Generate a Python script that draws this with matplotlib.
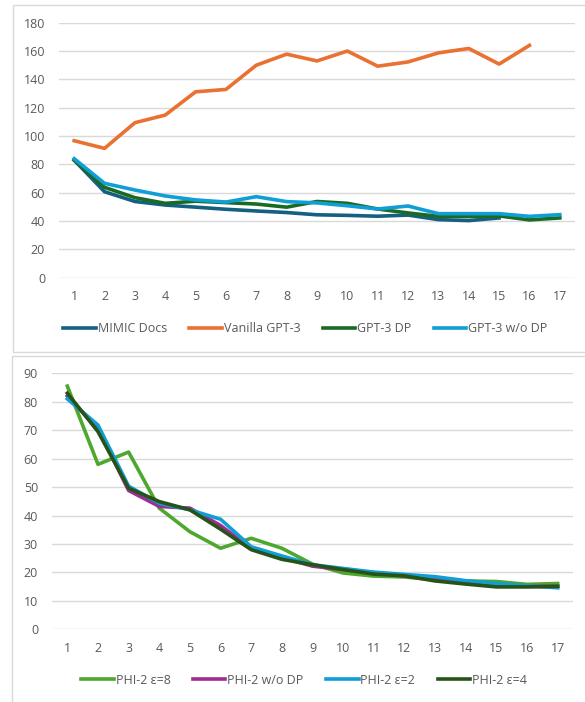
import numpy as np
import matplotlib
matplotlib.use("Agg")
import matplotlib.pyplot as plt
from matplotlib.patches import Rectangle

# x categories shared by both charts
steps = list(range(1, 18))

# top chart: GPT-3 series
mimic_docs = [83, 60.7, 53.8, 51.3, 49.8, 48.3, 47.1, 46, 44.4, 44, 43.4, 44.2, 41, 40.3, 42.2]
vanilla_gpt3 = [96.7, 91.3, 109.4, 114.8, 131.2, 132.9, 150, 157.8, 153, 160, 149.3, 152.3, 158.7, 161.8, 150.8, 164]
gpt3_dp = [83, 63.8, 56.5, 52.5, 54, 53, 52, 49.8, 53.8, 52.5, 48.5, 45.7, 43.3, 43.2, 43.6, 40.8, 42.2]
gpt3_no_dp = [84, 66.6, 61.9, 57.7, 54.9, 53.4, 57.2, 53.7, 52.8, 50.8, 48.5, 50.6, 45.2, 45.2, 45.2, 43.3, 44.5]

# bottom chart: PHI-2 series
phi2_eps8 = [85.5, 58, 62.3, 42.6, 34.3, 28.5, 32, 28.5, 22.9, 19.8, 18.7, 18.4, 17.4, 17, 16.8, 15.8, 16.1]
phi2_no_dp = [82, 70.5, 48.8, 43.2, 42.6, 36.5, 28.3, 25.2, 22.2, 21, 19.9, 18.7, 17.6, 16.5, 15.6, 15.1, 15.1]
phi2_eps2 = [81, 71.8, 50.3, 44.3, 42, 38.7, 29, 25.8, 22.7, 21.4, 20.1, 19.3, 18.5, 17.1, 16.1, 15.3, 14.6]
phi2_eps4 = [83, 69.5, 49.6, 44.9, 42, 35.2, 28, 24.6, 22.7, 21, 19.4, 18.8, 17, 15.9, 14.9, 14.9, 15.1]

W, H = 585, 702
fig = plt.figure(figsize=(W / 100, H / 100), dpi=100)
plt.rcParams['font.family'] = ['Open Sans', 'DejaVu Sans']

grid_c = '#D9D9D9'
text_c = '#595959'
lw = 2.6

# chart borders (Excel style)
fig.patches.append(Rectangle((13 / W, 1 - 352 / H), 600 / W, 347 / H, transform=fig.transFigure,
                             fill=False, edgecolor=grid_c, lw=1))
fig.patches.append(Rectangle((12 / W, -0.05), 600 / W, 1 - 356 / H + 0.05, transform=fig.transFigure,
                             fill=False, edgecolor=grid_c, lw=1))


def style_axes(ax, ymax, ystep):
    ax.set_xlim(0.5, 17.5)
    ax.set_ylim(0, ymax)
    ax.set_yticks(np.arange(0, ymax + 1, ystep))
    ax.set_xticks(steps)
    ax.grid(axis='y', color=grid_c, lw=1)
    ax.set_axisbelow(True)
    for s in ax.spines.values():
        s.set_visible(False)
    ax.tick_params(length=0, colors=text_c, labelsize=9)
    ax.tick_params(axis='y', pad=10)
    ax.tick_params(axis='x', pad=9)


# top chart
ax1 = fig.add_axes([59 / W, 1 - 277.7 / H, 516 / W, 255 / H])
style_axes(ax1, 180, 20)
ax1.plot(steps[:len(mimic_docs)], mimic_docs, color='#156082', lw=lw, label='MIMIC Docs')
ax1.plot(steps[:len(vanilla_gpt3)], vanilla_gpt3, color='#E97132', lw=lw, label='Vanilla GPT-3')
ax1.plot(steps, gpt3_dp, color='#196B24', lw=lw, label='GPT-3 DP')
ax1.plot(steps, gpt3_no_dp, color='#0F9ED5', lw=lw, label='GPT-3 w/o DP')
fig.legend(handles=ax1.get_lines(), loc='center', bbox_to_anchor=(0.522, 1 - 329 / H), ncol=4,
           frameon=False, fontsize=9, labelcolor=text_c, handlelength=2.6, handletextpad=0.15,
           columnspacing=1.8)

# bottom chart
ax2 = fig.add_axes([52 / W, 1 - 629.3 / H, 521 / W, 256 / H])
style_axes(ax2, 90, 10)
ax2.plot(steps, phi2_eps8, color='#4EA72E', lw=lw, label='PHI-2 ε=8')
ax2.plot(steps, phi2_no_dp, color='#A02B93', lw=lw, label='PHI-2 w/o DP')
ax2.plot(steps, phi2_eps2, color='#0F9ED5', lw=lw, label='PHI-2 ε=2')
ax2.plot(steps, phi2_eps4, color='#275317', lw=lw, label='PHI-2 ε=4')
fig.legend(handles=ax2.get_lines(), loc='center', bbox_to_anchor=(0.52, 1 - 680 / H), ncol=4,
           frameon=False, fontsize=9, labelcolor=text_c, handlelength=2.6, handletextpad=0.15,
           columnspacing=1.8)

fig.savefig('out.png', dpi=100)
